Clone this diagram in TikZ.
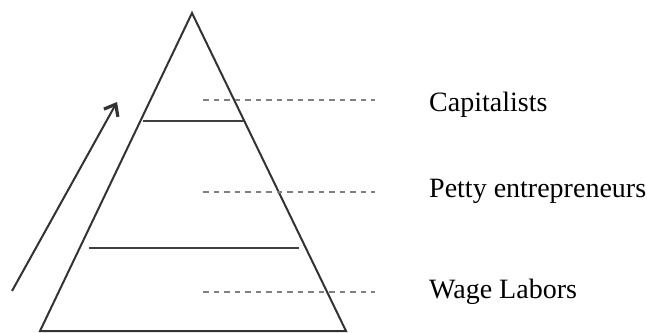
\documentclass[tikz,border=0pt]{standalone}
\usepackage{fontspec}
\setmainfont{Liberation Serif}
\usetikzlibrary{arrows.meta}
\begin{document}
\begin{tikzpicture}[x=1pt,y=-1pt,
  edge/.style={draw=black!80,line width=2pt},
  level/.style={draw=black!75,line width=2.6pt},
  guide/.style={draw=black!50,line width=2.2pt,dash pattern=on 5.5pt off 5pt},
  lbl/.style={anchor=base west,inner sep=0pt,font=\fontsize{28}{30}\selectfont}]
\useasboundingbox (0,0) rectangle (647,332);
\coordinate (apex) at (192,13);
\coordinate (bl) at (40,331);
\coordinate (br) at (346,331);
\draw[edge,line join=miter] (bl) -- (apex) -- (br) -- cycle;
\coordinate (u1) at (143,121); \coordinate (u2) at (244,121);
\coordinate (l1) at (89,248); \coordinate (l2) at (299,248);
\draw[level] (u1) -- (u2);
\draw[level] (l1) -- (l2);
\coordinate (d1a) at (203,100); \coordinate (d1b) at (375,100);
\coordinate (d2a) at (203,192); \coordinate (d2b) at (375,192);
\coordinate (d3a) at (203,292); \coordinate (d3b) at (375,292);
\draw[guide] (d1a) -- (d1b);
\draw[guide] (d2a) -- (d2b);
\draw[guide] (d3a) -- (d3b);
\node[lbl] (cap) at (429,111) {Capitalists};
\node[lbl] (pet) at (429,197) {Petty entrepreneurs};
\node[lbl] (wag) at (429,298) {Wage Labors};
\coordinate (as) at (12,291);
\coordinate (ae) at (117,102);
\draw[edge,-{Straight Barb[length=10pt,width=16pt,line width=3.2pt]}] (as) -- (ae);
\end{tikzpicture}
\end{document}
